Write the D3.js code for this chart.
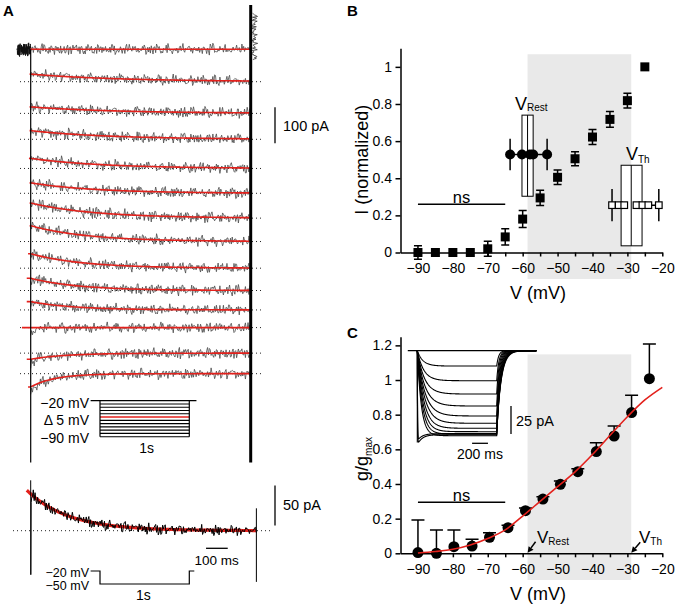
<!DOCTYPE html>
<html><head><meta charset="utf-8">
<script src="https://cdn.jsdelivr.net/npm/d3@7"></script>
<style>body{margin:0;background:#fff}svg{display:block}text{font-family:"Liberation Sans",Arial,sans-serif}</style>
</head><body><svg id="c" width="677" height="606"></svg>
<script>
// ---------------- DATA ----------------
// Panel A: stacked sweeps (pA, display offsets; steady-state end level, relaxing amplitude, time constant ms)
const traceEnd   = [0, 90, 178, 250, 331, 400, 469, 534, 608, 670, 724, 773, 844, 901];
const traceAmp   = [0, -21, -18, -24, -28, -29, -42, -44, -40, -34, -23, 0, 17, 37];
const traceTau   = [1, 420, 400, 360, 330, 300, 290, 260, 240, 220, 200, 1, 160, 110];
const traceDip   = [0, 0, 0, 0, 0, 0, 0, 0, 0, 8, 10, 25, 20, 25];
const traceFitStart = [-3, -5, -5, -5, -8, -5, -5, -5, -12, -18, -18, -40, -18, -12];
// recording noise pattern (normalized, read loosely from the sweeps)
const noiseArr = [0.3,-0.5,0.8,-0.2,-0.9,0.4,0.1,-0.6,0.7,0.2,-0.3,-0.8,0.5,0.9,-0.4,0.0,
  -0.7,0.6,0.3,-0.1,-0.9,0.8,-0.5,0.2,0.4,-0.3,0.7,-0.8,0.1,0.5,-0.6,-0.2,
  0.9,-0.4,0.3,-0.7,0.6,0.0,-0.5,0.8,-0.1,-0.9,0.4,0.2,-0.6,0.7,-0.3,0.5,
  -0.8,0.1,0.9,-0.2,-0.4,0.6,-0.7,0.3,0.8,-0.5,0.0,-0.9,0.4,0.7,-0.1,-0.6];
const protoLevels = [-20,-26.4,-32.7,-39.1,-45.5,-51.8,-58.2,-64.5,-70.9,-77.3,-83.6,-90];
const protoRedIndex = 5;
// Panel A lower sweep (-50 mV step)
const lowAmp = 46, lowTau = 190;
// Panel B
const bV   = [-90,-85,-80,-75,-70,-65,-60,-55,-50,-45,-40,-35,-30,-25];
const bI   = [0.0,0.0,0.0,0.0,0.02,0.084,0.18,0.294,0.405,0.505,0.622,0.717,0.818,1.0];
const bErr = [0.036,0,0,0,0.04,0.044,0.046,0.041,0.039,0.038,0.04,0.042,0.04,0];
const rest = {min:-63.6, q1:-60.2, median:-58.6, q3:-57.0, max:-53.0, y:0.528, err:0.085, boxLo:0.303, boxHi:0.74};
const restMarks = [-63.6,-60.2,-57.9,-57.0,-53.0];
const th = {min:-34.4, q1:-31.8, median:-28.9, q3:-25.8, max:-21.0, y:0.255, err:0.087, boxLo:0.036, boxHi:0.47};
const thMarks = [-34.4,-32.5,-30.9,-27.4,-25.7,-24.0,-21.0];
// Panel C
const cV   = [-90,-84.7,-79.7,-74.5,-69.5,-64.2,-59.2,-54.2,-49.2,-44.2,-38.9,-33.8,-28.8,-23.7];
const cG   = [0.004,0.0,0.038,0.042,0.092,0.148,0.246,0.313,0.398,0.471,0.587,0.677,0.812,1.008];
const cTop = [0.192,0.135,0.135,0.081,0.119,0.162,0.262,0.327,0.417,0.488,0.638,0.735,0.912,1.208];
const fitV = [-90,-85,-80,-75,-70,-65,-60,-55,-50,-45,-40,-35,-30,-25,-20];
const fitG = [0.002,0.01,0.023,0.048,0.085,0.135,0.215,0.3,0.385,0.47,0.57,0.68,0.788,0.885,0.958];
// Panel C inset (pA steady levels, time constants ms)
const insetLevel  = [13.7,26.8,38.7,49.4,58.3,64.8,69.3,72.3,74.4,75.9];
const insetTauOn  = [70,80,90,95,95,90,80,70,60,50];
const insetTauOff = [25,28,30,33,36,39,42,45,48,50];
const insetPeak = [82,79], insetPeakLevel = [75,74];
const xTicks = [-90,-85,-80,-75,-70,-65,-60,-55,-50,-45,-40,-35,-30,-25,-20];
const bYTicks = [0,0.2,0.4,0.6,0.8,1];
const cYTicks = [0,0.2,0.4,0.6,0.8,1,1.2];

// ---------------- DRAW ----------------
const RED = "#e3211c";
const FONT = '"Liberation Sans",Arial,sans-serif';
const svg = d3.select("#c");
svg.append("rect").attr("width",677).attr("height",606).attr("fill","#fff");
function nz(k,s){ return 0.75*noiseArr[(k*7+s*13)%64] + 0.5*noiseArr[(k*5+s*3)%61]; }
function txt(g,x,y,s,size,anchor,weight){
  return g.append("text").attr("x",x).attr("y",y).attr("font-size",size).attr("text-anchor",anchor||"start")
    .attr("font-weight",weight||"normal").attr("fill","#000").text(s);
}

// ===== Panel A =====
const gA = svg.append("g");
const xA = d3.scaleLinear().domain([0,1000]).range([30.7,250.7]);
const yA = d3.scaleLinear().domain([0,1000]).range([49.3,409.3]);
const lineA = d3.line().x(d=>xA(d[0])).y(d=>yA(d[1]));
traceEnd.forEach((e,i)=>{
  if(i===0) return;
  gA.append("line").attr("x1",20).attr("x2",261).attr("y1",yA(e)).attr("y2",yA(e))
    .attr("stroke","#222").attr("stroke-width",1).attr("stroke-dasharray","1,3");
});
// holding blob
{
  const pts=[]; let k=0;
  for(let t=-62;t<=0;t+=0.6){ pts.push([t, 18*nz(k,40)]); k++; }
  gA.append("path").attr("d",lineA(pts)).attr("fill","none").attr("stroke","#111").attr("stroke-width",0.9);
}
// tail squiggle at top right
{
  const pts=[]; let k=0;
  for(let p=-100;p<=32;p+=2.2){ pts.push([1016+15*nz(k,55), p]); k++; }
  gA.append("path").attr("d",lineA(pts)).attr("fill","none").attr("stroke","#333").attr("stroke-width",0.8);
}
traceEnd.forEach((e,i)=>{
  const fit = t => e + traceAmp[i]*Math.exp(-Math.max(t,0)/traceTau[i]);
  const pts=[];
  for(let k=0;k<=250;k++){ const t=k*4; pts.push([t, fit(t) + traceDip[i]*Math.exp(-t/12) + 15*nz(k,i)]); }
  gA.append("path").attr("d",lineA(pts)).attr("fill","none").attr("stroke","#4a4a4a").attr("stroke-width",0.8);
});
traceEnd.forEach((e,i)=>{
  const fit = t => e + traceAmp[i]*Math.exp(-Math.max(t,0)/traceTau[i]);
  const pts=[];
  for(let t=traceFitStart[i];t<1000;t+=10) pts.push([t,fit(t)]);
  pts.push([1000,fit(1000)]);
  gA.append("path").attr("d",lineA(pts)).attr("fill","none").attr("stroke",RED).attr("stroke-width",1.6);
});
gA.append("line").attr("x1",xA(0)).attr("x2",xA(0)).attr("y1",yA(0)).attr("y2",yA(1148)).attr("stroke","#000").attr("stroke-width",1.2);
gA.append("line").attr("x1",xA(1000)).attr("x2",xA(1000)).attr("y1",yA(-123)).attr("y2",yA(1148)).attr("stroke","#000").attr("stroke-width",3);
// 100 pA bar
gA.append("line").attr("x1",275).attr("x2",275).attr("y1",yA(161)).attr("y2",yA(261)).attr("stroke","#000").attr("stroke-width",1.3);
txt(gA,283,131,"100 pA",14.5);
// protocol inset
const xP = d3.scaleLinear().domain([0,1000]).range([100,189.3]);
const yP = d3.scaleLinear().domain([-20,-90]).range([400.7,436.7]);
protoLevels.forEach((v,i)=>{
  if(i===0) return;
  gA.append("line").attr("x1",xP(0)).attr("x2",xP(1000)).attr("y1",yP(v)).attr("y2",yP(v))
    .attr("stroke",i===protoRedIndex?RED:"#000").attr("stroke-width",i===protoRedIndex?1.6:1.1);
});
gA.append("line").attr("x1",xP(-105)).attr("x2",xP(1080)).attr("y1",yP(-20)).attr("y2",yP(-20)).attr("stroke","#000").attr("stroke-width",1.2);
[0,1000].forEach(t=>gA.append("line").attr("x1",xP(t)).attr("x2",xP(t)).attr("y1",yP(-20)).attr("y2",yP(-90)).attr("stroke","#000").attr("stroke-width",1.2));
txt(gA,89,408,"\u221220 mV",14,"end");
txt(gA,89,425,"\u0394 5 mV",14,"end");
txt(gA,89,443,"\u221290 mV",14,"end");
txt(gA,146.7,453,"1s",14,"middle");

// lower sweep
const xL = d3.scaleLinear().domain([0,1000]).range([30.7,247.7]);
const yL = d3.scaleLinear().domain([0,50]).range([530.7,490.7]);
const lineL = d3.line().x(d=>xL(d[0])).y(d=>yL(d[1]));
gA.append("line").attr("x1",13).attr("x2",270).attr("y1",yL(0)).attr("y2",yL(0))
  .attr("stroke","#222").attr("stroke-width",1).attr("stroke-dasharray","1,3");
{
  const r=[]; for(let t=-18;t<=1040;t+=8) r.push([t, lowAmp*Math.exp(-t/lowTau)]);
  gA.append("path").attr("d",lineL(r)).attr("fill","none").attr("stroke",RED).attr("stroke-width",3.2);
  const pts=[[0,63],[0.5,-55],[2,35],[5,42]];
  for(let k=2;k<=260;k++){ const t=k*4; pts.push([t, lowAmp*Math.exp(-t/lowTau) + 7*(0.75*noiseArr[(k*9+5)%64]+0.5*noiseArr[(k*5+17)%61])]); }
  gA.append("path").attr("d",lineL(pts)).attr("fill","none").attr("stroke","#000").attr("stroke-width",1);
}
gA.append("line").attr("x1",xL(1040)).attr("x2",xL(1040)).attr("y1",yL(28)).attr("y2",yL(-64)).attr("stroke","#000").attr("stroke-width",1);
gA.append("line").attr("x1",275).attr("x2",275).attr("y1",yL(56.5)).attr("y2",yL(6.5)).attr("stroke","#000").attr("stroke-width",1.3);
txt(gA,283,510,"50 pA",14.5);
gA.append("line").attr("x1",xL(808)).attr("x2",xL(908)).attr("y1",548.3).attr("y2",548.3).attr("stroke","#000").attr("stroke-width",1.3);
txt(gA,216.7,565,"100 ms",13.5,"middle");
const xP2 = d3.scaleLinear().domain([0,1000]).range([100,189.3]);
const yP2 = d3.scaleLinear().domain([-20,-50]).range([571,584]);
gA.append("path").attr("d",d3.line()([[xP2(-105),yP2(-20)],[xP2(0),yP2(-20)],[xP2(0),yP2(-50)],[xP2(1000),yP2(-50)],[xP2(1000),yP2(-20)],[xP2(1056),yP2(-20)]]))
  .attr("fill","none").attr("stroke","#000").attr("stroke-width",1.2);
txt(gA,89,576.5,"\u221220 mV",12.5,"end");
txt(gA,89,590,"\u221250 mV",12.5,"end");
txt(gA,143.3,600,"1s",14,"middle");
txt(gA,3,15.5,"A",15,"start","bold");

// ===== helper axes =====
const yFmt = d => d===0 ? "0" : (Number.isInteger(d) ? String(d) : d.toFixed(1));
const xFmt = d => d%10===0 ? d3.format("d")(d) : "";
function styleAxis(g){
  g.attr("font-family",FONT).attr("font-size",14);
  g.selectAll("path,line").attr("stroke","#000").attr("stroke-width",1.5);
  g.selectAll("text").attr("fill","#000");
}
function arrowHead(g,x1,y1,x2,y2){
  const dx=x2-x1, dy=y2-y1, L=Math.hypot(dx,dy), ux=dx/L, uy=dy/L, hl=6, hw=3;
  const bx=x2-ux*hl, by=y2-uy*hl;
  g.append("line").attr("x1",x1).attr("y1",y1).attr("x2",bx).attr("y2",by).attr("stroke","#000").attr("stroke-width",1.5);
  g.append("path").attr("d",`M${x2},${y2}L${bx-uy*hw},${by+ux*hw}L${bx+uy*hw},${by-ux*hw}Z`).attr("fill","#000");
}

// ===== Panel B =====
const gB = svg.append("g");
const xB = d3.scaleLinear().domain([-95,-20]).range([400.5,662.3]);
const yB = d3.scaleLinear().domain([0,1.1]).range([252.5,48.3]);
gB.append("rect").attr("x",xB(rest.median)).attr("width",xB(th.median)-xB(rest.median))
  .attr("y",yB(1.068)).attr("height",yB(0)+26.5-yB(1.068)).attr("fill","#e9e9e9");
gB.append("g").attr("transform",`translate(0,${yB(0)})`)
  .call(d3.axisBottom(xB).tickValues(xTicks).tickFormat(xFmt).tickSize(4).tickSizeOuter(0).tickPadding(7)).call(styleAxis);
gB.append("g").attr("transform",`translate(${xB(-95)},0)`)
  .call(d3.axisLeft(yB).tickValues(bYTicks).tickFormat(yFmt).tickSize(5).tickSizeOuter(0).tickPadding(3.5)).call(styleAxis);
txt(gB,538,299,"V (mV)",18,"middle");
gB.append("text").attr("transform",`translate(368,${yB(0.5)}) rotate(-90)`).attr("text-anchor","middle")
  .attr("font-size",18).attr("fill","#000").text("I (normalized)");
// ns
gB.append("line").attr("x1",xB(-90)).attr("x2",xB(-65)).attr("y1",yB(0.26)).attr("y2",yB(0.26)).attr("stroke","#000").attr("stroke-width",1.5);
txt(gB,(xB(-90)+xB(-65))/2,202.5,"ns",16.5,"middle");
// squares + errors
bV.forEach((v,i)=>{
  if(bErr[i]>0){
    const x=xB(v), y1=yB(bI[i]-bErr[i]), y2=yB(bI[i]+bErr[i]);
    gB.append("path").attr("d",`M${x},${y1}V${y2}M${x-4},${y1}H${x+4}M${x-4},${y2}H${x+4}`).attr("stroke","#000").attr("stroke-width",1.5).attr("fill","none");
  }
  gB.append("rect").attr("x",xB(v)-4.5).attr("y",yB(bI[i])-4.5).attr("width",9).attr("height",9).attr("fill","#000");
});
// V_Rest box plot
gB.append("line").attr("x1",xB(rest.min)).attr("x2",xB(rest.max)).attr("y1",yB(rest.y)).attr("y2",yB(rest.y)).attr("stroke","#000").attr("stroke-width",1.5);
[rest.min,rest.max].forEach(v=>gB.append("line").attr("x1",xB(v)).attr("x2",xB(v)).attr("y1",yB(rest.y-rest.err)).attr("y2",yB(rest.y+rest.err)).attr("stroke","#000").attr("stroke-width",1.5));
gB.append("rect").attr("x",xB(rest.q1)).attr("width",xB(rest.q3)-xB(rest.q1)).attr("y",yB(rest.boxHi)).attr("height",yB(rest.boxLo)-yB(rest.boxHi)).attr("fill","#fff").attr("stroke","#000").attr("stroke-width",1);
gB.append("line").attr("x1",xB(rest.median)).attr("x2",xB(rest.median)).attr("y1",yB(rest.boxHi)).attr("y2",yB(rest.boxLo)).attr("stroke","#000").attr("stroke-width",1);
restMarks.forEach(v=>gB.append("circle").attr("cx",xB(v)).attr("cy",yB(rest.y)).attr("r",5).attr("fill","#000"));
// V_Th box plot
gB.append("line").attr("x1",xB(th.min)).attr("x2",xB(th.max)).attr("y1",yB(th.y)).attr("y2",yB(th.y)).attr("stroke","#000").attr("stroke-width",1.5);
[th.min,th.max].forEach(v=>gB.append("line").attr("x1",xB(v)).attr("x2",xB(v)).attr("y1",yB(th.y-th.err)).attr("y2",yB(th.y+th.err)).attr("stroke","#000").attr("stroke-width",1.5));
gB.append("rect").attr("x",xB(th.q1)).attr("width",xB(th.q3)-xB(th.q1)).attr("y",yB(th.boxHi)).attr("height",yB(th.boxLo)-yB(th.boxHi)).attr("fill","#fff").attr("stroke","#000").attr("stroke-width",1);
gB.append("line").attr("x1",xB(th.median)).attr("x2",xB(th.median)).attr("y1",yB(th.boxHi)).attr("y2",yB(th.boxLo)).attr("stroke","#000").attr("stroke-width",1);
thMarks.forEach(v=>gB.append("rect").attr("x",xB(v)-3.3).attr("y",yB(th.y)-3.3).attr("width",6.6).attr("height",6.6).attr("fill","#fff").attr("stroke","#000").attr("stroke-width",1.2));
{
  const t1 = gB.append("text").attr("x",515).attr("y",110).attr("font-size",18).attr("fill","#000").text("V");
  t1.append("tspan").attr("font-size",10).attr("dy",0.7).text("Rest");
  const t2 = gB.append("text").attr("x",626).attr("y",160).attr("font-size",18).attr("fill","#000").text("V");
  t2.append("tspan").attr("font-size",10).attr("dy",2.5).text("Th");
}
txt(gB,347,16,"B",15,"start","bold");

// ===== Panel C =====
const gC = svg.append("g");
const xC = d3.scaleLinear().domain([-95,-20]).range([400.5,662.3]);
const yC = d3.scaleLinear().domain([0,1.25]).range([553.3,336.7]);
gC.append("rect").attr("x",xC(rest.median)).attr("width",xC(th.median)-xC(rest.median))
  .attr("y",yC(1.148)).attr("height",yC(0)+26.7-yC(1.148)).attr("fill","#e9e9e9");
gC.append("g").attr("transform",`translate(0,${yC(0)})`)
  .call(d3.axisBottom(xC).tickValues(xTicks).tickFormat(xFmt).tickSize(4).tickSizeOuter(0).tickPadding(7)).call(styleAxis);
gC.append("g").attr("transform",`translate(${xC(-95)},0)`)
  .call(d3.axisLeft(yC).tickValues(cYTicks).tickFormat(yFmt).tickSize(5).tickSizeOuter(0).tickPadding(3.5)).call(styleAxis);
txt(gC,538,600,"V (mV)",18,"middle");
{
  const t = gC.append("text").attr("transform",`translate(368,459) rotate(-90)`).attr("text-anchor","middle")
    .attr("font-size",18).attr("fill","#000").text("g/g");
  t.append("tspan").attr("font-size",10).attr("dy",4).text("max");
}
gC.append("line").attr("x1",xC(-90)).attr("x2",xC(-65)).attr("y1",yC(0.295)).attr("y2",yC(0.295)).attr("stroke","#000").attr("stroke-width",1.5);
txt(gC,(xC(-90)+xC(-65))/2,501,"ns",16.5,"middle");
// error bars (upper only)
cV.forEach((v,i)=>{
  const x=xC(v), y1=yC(cG[i]), y2=yC(cTop[i]);
  gC.append("path").attr("d",`M${x},${y1}V${y2}M${x-6.5},${y2}H${x+6.5}`).attr("stroke","#000").attr("stroke-width",1.5).attr("fill","none");
});
cV.forEach((v,i)=>gC.append("circle").attr("cx",xC(v)).attr("cy",yC(cG[i])).attr("r",5.5).attr("fill","#000"));
gC.append("path").attr("d",d3.line().curve(d3.curveMonotoneX).x((d,i)=>xC(fitV[i])).y((d,i)=>yC(fitG[i]))(fitV))
  .attr("fill","none").attr("stroke",RED).attr("stroke-width",1.6);
// arrows
arrowHead(gC,xC(rest.median)+8,yC(0)-11.6,xC(rest.median),yC(0)-0.5);
arrowHead(gC,xC(th.median)+9,yC(0)-11,xC(th.median),yC(0)-0.5);
{
  const t1 = gC.append("text").attr("x",537).attr("y",543).attr("font-size",17).attr("fill","#000").text("V");
  t1.append("tspan").attr("font-size",10).attr("dy",2).text("Rest");
  const t2 = gC.append("text").attr("x",639).attr("y",542.7).attr("font-size",17).attr("fill","#000").text("V");
  t2.append("tspan").attr("font-size",10).attr("dy",2.3).text("Th");
}
// inset
const xI = d3.scaleLinear().domain([0,1000]).range([417.3,496.7]);
const yI = d3.scaleLinear().domain([0,25]).range([350.7,378.7]);
const lineI = d3.line().x(d=>xI(d[0])).y(d=>yI(d[1]));
gC.append("line").attr("x1",xI(-120)).attr("x2",xI(1500)).attr("y1",yI(0)).attr("y2",yI(0)).attr("stroke","#000").attr("stroke-width",1.3);
insetLevel.forEach((L,i)=>{
  const pts=[];
  const on = t => L*(1-Math.exp(-t/insetTauOn[i]));
  for(let t=0;t<=1000;t+=4) pts.push([t,on(t)]);
  const end=on(1000);
  for(let t=1004;t<=1500;t+=3) pts.push([t,end*Math.exp(-(t-1000)/insetTauOff[i])]);
  gC.append("path").attr("d",lineI(pts)).attr("fill","none").attr("stroke","#000").attr("stroke-width",1.1);
});
insetPeak.forEach((P,i)=>{
  const Lv=insetPeakLevel[i];
  const on = t => (1-Math.exp(-t/3))*(Lv+(P-Lv)*1.3*Math.exp(-t/60));
  const pts=[]; for(let t=0;t<=1000;t+=2) pts.push([t,on(t)]);
  const end=on(1000);
  for(let t=1003;t<=1500;t+=3) pts.push([t,end*Math.exp(-(t-1000)/(52+i*3))]);
  gC.append("path").attr("d",lineI(pts)).attr("fill","none").attr("stroke","#000").attr("stroke-width",1.1);
});
gC.append("line").attr("x1",xI(0)).attr("x2",xI(0)).attr("y1",yI(0)).attr("y2",yI(82)).attr("stroke","#000").attr("stroke-width",1.1);
gC.append("line").attr("x1",511).attr("x2",511).attr("y1",yI(49.4)).attr("y2",yI(74.4)).attr("stroke","#000").attr("stroke-width",1.3);
txt(gC,516,426,"25 pA",14.5);
gC.append("line").attr("x1",xI(690)).attr("x2",xI(890)).attr("y1",443.3).attr("y2",443.3).attr("stroke","#000").attr("stroke-width",1.3);
txt(gC,480,459,"200 ms",14,"middle");
txt(gC,347,338,"C",15,"start","bold");
</script></body></html>
